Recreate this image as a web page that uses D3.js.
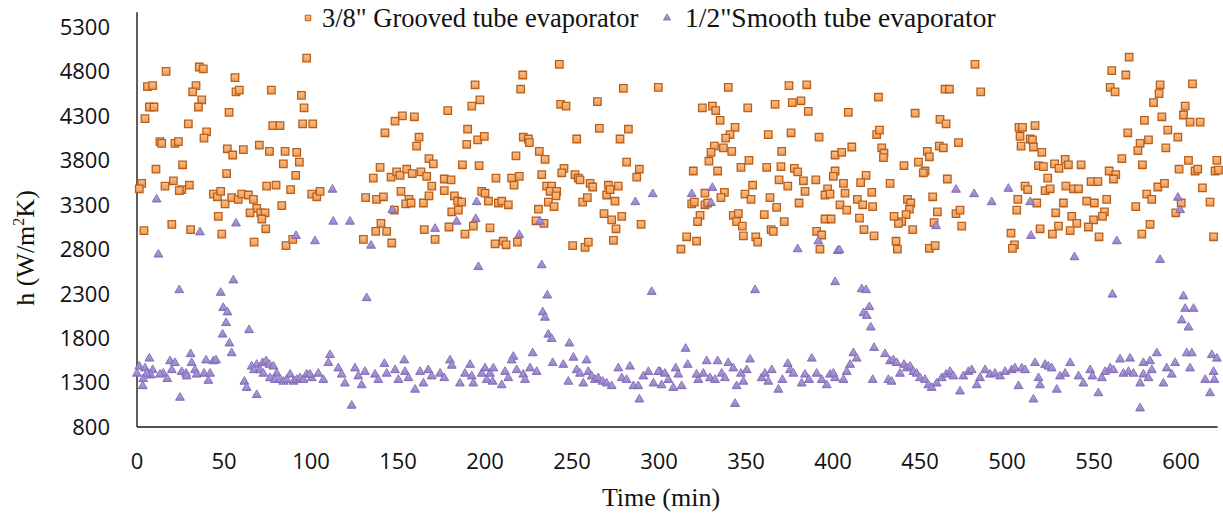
<!DOCTYPE html>
<html>
<head>
<meta charset="utf-8">
<script src="https://cdn.jsdelivr.net/npm/d3@7/dist/d3.min.js"></script>
<style>
  html, body { margin: 0; padding: 0; background: #fff; }
  svg { display: block; }
</style>
</head>
<body>
<svg id="chart" width="1223" height="515"></svg>
<script>
// Heat transfer coefficient over time for the two evaporators
const seriesNames = ['3/8" Grooved tube evaporator', '1/2"Smooth tube evaporator'];
const xTicks = [0, 50, 100, 150, 200, 250, 300, 350, 400, 450, 500, 550, 600];
const yTicks = [800, 1300, 1800, 2300, 2800, 3300, 3800, 4300, 4800, 5300];

// 3/8" grooved tube: time (min) and h (W/m2K)
const groovedTime = [
  97.5,35.8,38.1,16.7,56.3,6.0,9.0,33.9,32.0,56.9,58.8,77.2,94.5,37.2,7.1,9.8,35.3,96.0,52.9,4.6,
  29.5,78.0,82.2,95.2,101.0,40.0,38.5,13.2,14.2,21.8,23.8,51.9,55.0,61.1,70.3,76.1,85.1,91.8,84.1,93.3,
  26.2,10.9,51.5,91.2,2.7,1.3,16.1,20.9,30.1,25.7,24.3,43.9,46.2,48.1,50.6,54.4,58.2,60.2,64.0,66.9,
  68.8,71.1,73.6,65.0,71.7,74.0,46.7,74.5,79.9,88.3,83.2,100.4,4.0,20.0,30.8,48.7,67.3,85.6,89.5,
  103.3,105.2,194.3,197.1,192.4,178.6,152.5,148.3,159.4,142.5,162.1,160.7,190.0,195.8,199.6,189.5,167.8,170.3,187.0,196.6,
  139.7,135.8,146.0,149.2,151.2,155.0,158.2,163.2,166.5,169.4,176.6,180.5,176.6,182.4,184.3,186.6,180.9,184.7,198.1,131.4,
  137.7,141.6,151.7,156.3,154.4,157.5,164.6,167.8,147.9,140.2,137.2,143.5,130.1,146.4,165.1,171.3,179.3,188.5,193.3,
  242.7,221.7,220.5,279.5,299.6,243.5,246.6,264.6,265.7,282.4,277.6,252.7,222.0,224.9,225.5,217.8,231.2,234.5,245.4,244.1,
  232.6,251.7,253.6,254.6,260.4,261.9,281.4,288.7,287.2,206.3,215.3,216.7,219.7,235.4,238.3,237.4,241.2,240.8,200.0,202.0,
  207.7,209.6,213.4,236.4,239.7,230.7,229.3,233.9,256.1,258.8,270.9,269.9,271.9,276.6,274.7,268.4,272.8,278.6,275.3,289.7,
  273.8,202.9,205.8,210.5,212.1,218.6,250.4,257.5,259.4,
  339.8,374.7,384.9,324.9,330.7,332.6,335.1,351.0,366.7,376.6,381.6,385.8,343.7,340.8,338.3,362.8,375.9,392.0,331.8,329.9,
  337.0,341.8,328.7,351.7,370.5,319.7,333.7,347.1,361.9,370.1,377.8,379.7,369.0,374.0,383.0,383.9,390.1,401.2,401.2,400.2,
  396.9,395.4,398.3,353.8,337.6,326.4,349.4,352.9,363.8,367.6,380.5,318.8,320.3,326.4,328.0,335.6,323.6,322.2,342.7,345.6,
  344.6,347.9,360.5,372.0,364.4,365.7,395.4,398.9,315.9,321.6,312.6,348.5,355.6,356.7,390.6,393.5,392.5,
  481.6,464.4,466.9,484.9,426.1,408.8,447.2,461.5,465.0,425.1,426.7,472.1,428.0,429.3,429.0,461.1,463.4,454.2,455.4,410.8,
  405.0,440.8,449.1,452.9,451.9,419.0,415.9,406.0,432.8,465.7,406.9,414.0,417.1,422.3,422.8,404.0,407.9,415.2,442.8,444.7,
  443.9,442.0,439.5,437.6,435.1,457.3,460.0,458.1,470.7,473.0,474.0,417.8,423.6,445.8,436.2,437.0,455.4,458.7,
  570.2,560.2,568.3,559.3,562.1,588.0,606.6,587.4,584.2,602.4,589.0,601.4,605.2,611.0,579.0,569.4,592.4,581.3,576.5,598.2,
  591.3,575.2,566.0,577.8,604.3,620.6,619.6,621.5,598.9,608.1,609.6,612.3,558.7,562.5,561.2,506.9,508.9,516.1,507.5,513.3,
  514.6,508.1,515.2,520.0,518.1,520.9,527.3,529.9,533.4,535.3,542.6,523.4,510.4,511.9,521.9,524.8,533.8,538.2,541.1,548.3,
  552.2,557.3,506.2,505.6,517.1,532.4,545.8,550.2,556.0,554.9,549.7,528.0,537.2,540.1,529.6,536.3,546.8,526.1,519.0,552.9,
  502.3,504.3,503.1,574.0,580.3,583.2,586.7,590.5,577.5,582.2,597.0,600.1,616.7,618.7
];
const groovedH = [
  4950,4850,4830,4800,4730,4630,4640,4640,4570,4570,4590,4590,4530,4480,4400,4400,4400,4390,4340,4270,
  4210,4190,4190,4210,4210,4120,4050,4010,3990,3990,4010,3930,3860,3920,3970,3900,3900,3890,3760,3780,
  3750,3700,3650,3630,3540,3480,3510,3570,3520,3470,3460,3420,3390,3450,3310,3380,3360,3420,3410,3360,
  3260,3210,3210,3210,3140,3030,3170,3510,3520,3470,3290,3420,3010,3080,3020,2970,2880,2840,2910,
  3390,3450,4650,4480,4410,4360,4300,4240,4290,4110,4060,3960,4150,4030,4070,3980,3820,3760,3750,3740,
  3720,3600,3610,3670,3630,3700,3650,3670,3620,3510,3590,3580,3460,3400,3340,3330,3220,3240,3450,3380,
  3360,3390,3450,3360,3310,3320,3320,3400,3240,3090,3000,3000,2910,2870,3020,2910,3050,2970,3060,
  4880,4760,4600,4610,4620,4430,4410,4460,4160,4150,4040,4040,4060,4040,4000,3850,3900,3810,3710,3660,
  3640,3640,3600,3580,3540,3500,3780,3700,3610,3600,3600,3520,3620,3510,3510,3450,3450,3400,3430,3340,
  3320,3340,3300,3330,3280,3250,3120,3090,3330,3380,3520,3410,3470,3510,3340,3200,3130,3170,3030,3080,
  2900,3040,2860,2890,2850,2880,2840,2820,2880,
  4620,4640,4650,4390,4410,4360,4250,4390,4430,4450,4470,4350,4170,4090,4050,4090,4110,4060,3960,3890,
  3940,3900,3790,3800,3900,3680,3680,3720,3720,3730,3710,3670,3580,3510,3570,3450,3580,3860,3680,3620,
  3480,3410,3420,3520,3440,3430,3420,3360,3380,3270,3320,3310,3330,3300,3320,3380,3180,3110,3180,3200,
  3110,3060,3190,3110,3020,3000,3140,3140,2940,2890,2800,2950,2940,2880,3000,2960,2800,
  4880,4600,4600,4570,4510,4340,4330,4260,4210,4090,4140,4000,3940,3880,3830,3960,3940,3900,3840,3950,
  3890,3740,3780,3680,3660,3630,3550,3540,3540,3590,3430,3360,3300,3440,3280,3300,3240,3150,3360,3320,
  3250,3190,3110,3090,3170,3390,3220,3100,3200,3240,3060,3020,2950,3020,2890,2800,2810,2840,
  4960,4810,4760,4620,4570,4650,4660,4550,4450,4410,4290,4310,4230,4230,4250,4110,4140,4030,3990,4060,
  3940,3910,3820,3750,3800,3800,3680,3690,3700,3680,3700,3490,3680,3640,3590,4170,4170,4190,4070,4040,
  4030,3960,3950,3890,3740,3730,3760,3710,3810,3750,3750,3600,3510,3470,3460,3480,3510,3480,3480,3560,
  3560,3360,3360,3240,3320,3320,3340,3320,3220,3170,3130,3210,3170,3090,3060,3010,3050,2970,3030,2940,
  2980,2850,2810,3280,3420,3360,3500,3540,2970,3080,3210,3320,3330,2940
];

// 1/2" smooth tube: time (min) and h (W/m2K)
const smoothTime = [
  11.3,56.9,36.2,12.3,91.4,55.4,24.3,48.1,49.6,52.0,51.2,64.4,49.2,53.1,54.4,7.1,30.8,19.0,21.8,39.7,
  43.9,45.4,1.3,4.6,9.0,15.1,17.4,25.7,28.2,31.4,33.3,38.5,41.0,42.0,3.3,3.6,7.9,61.7,63.0,68.8,
  24.7,65.9,68.8,72.2,74.2,76.1,78.4,80.3,76.4,79.3,82.2,84.1,86.0,88.0,89.9,91.8,93.7,95.6,97.5,100.4,
  67.3,70.7,72.6,0.0,5.6,34.3,28.5,13.2,20.0,
  112.3,102.3,112.8,122.4,134.5,146.7,171.3,183.7,195.2,194.7,196.2,132.0,123.4,110.9,110.0,159.8,99.4,104.2,107.1,115.7,
  117.6,119.5,125.3,127.2,129.1,131.0,136.8,138.7,142.2,143.5,148.3,150.2,153.6,154.0,156.0,162.7,164.6,167.4,169.4,174.2,
  176.6,179.9,180.9,185.6,188.5,191.4,192.4,193.3,198.1,201.0,
  296.4,286.4,231.6,219.7,232.6,295.8,235.8,233.2,234.5,236.4,238.3,248.5,227.4,216.3,215.3,250.8,258.4,238.9,245.0,247.9,
  288.7,200.0,202.9,204.8,204.4,209.6,211.5,213.4,218.2,222.0,223.0,225.9,229.7,252.7,254.6,256.5,259.4,261.3,263.2,265.1,
  267.6,269.9,272.8,276.6,278.6,281.4,283.3,285.3,288.1,291.0,293.9,296.8,300.6,
  318.8,330.7,329.9,391.6,379.7,402.7,401.2,355.2,315.3,387.8,352.3,327.4,333.7,339.8,316.5,374.0,309.6,299.6,303.4,301.5,
  305.4,308.2,313.0,311.1,322.6,321.6,325.5,329.3,332.2,336.0,337.9,342.7,344.6,347.1,348.5,343.7,350.4,359.0,360.9,364.8,
  362.8,368.6,370.9,375.3,377.2,382.0,383.9,386.2,390.6,393.5,396.4,398.3,401.2,
  470.7,481.1,491.2,500.8,459.2,403.7,416.5,419.0,420.9,417.5,419.4,421.7,423.6,429.9,411.7,413.6,409.8,407.9,406.0,400.2,
  422.8,431.8,433.7,432.8,434.7,436.6,438.5,440.8,442.4,444.3,446.2,448.1,450.0,452.9,454.8,456.7,459.6,462.5,465.0,467.3,
  469.2,473.0,474.9,477.8,479.7,482.6,484.5,487.4,490.3,493.1,496.0,498.9,502.7,
  513.3,513.8,563.1,598.2,599.5,538.8,588.0,560.6,601.4,602.4,607.2,600.4,604.3,586.1,603.3,606.2,617.7,620.6,565.0,570.7,
  578.4,582.2,504.6,508.5,510.4,516.1,518.1,521.9,523.8,525.7,506.6,519.0,515.2,528.6,530.5,533.4,536.3,541.1,543.9,547.8,
  549.1,552.5,554.5,556.4,559.3,561.2,566.9,569.8,572.7,576.5,576.5,578.4,581.3,583.2,589.9,591.8,594.7,596.6,605.2,613.9,
  616.7,618.7,619.2
];
const smoothH = [
  3360,3090,2990,2740,2950,2450,2340,2310,2140,2090,1970,1890,1840,1740,1630,1570,1620,1540,1520,1550,
  1540,1550,1480,1460,1440,1400,1340,1420,1400,1520,1440,1400,1320,1400,1260,1340,1380,1310,1240,1160,
  1130,1480,1500,1520,1540,1500,1480,1400,1350,1330,1330,1310,1330,1390,1310,1330,1350,1330,1390,1350,
  1440,1440,1400,1400,1400,1390,1370,1390,1440,
  3470,2890,3110,3110,2840,3240,3030,3110,3330,3140,2600,2250,1040,1610,1520,1220,1390,1400,1330,1460,
  1390,1290,1460,1370,1270,1420,1390,1330,1510,1400,1440,1330,1550,1420,1350,1420,1290,1440,1370,1400,
  1350,1550,1490,1290,1400,1500,1370,1290,1400,1330,
  3420,3330,3110,2960,2620,2320,2280,2090,2030,1840,1790,1740,1630,1590,1550,1580,1550,1520,1500,1310,
  1110,1460,1400,1460,1310,1270,1420,1350,1440,1390,1330,1460,1420,1440,1400,1290,1420,1370,1330,1350,
  1310,1290,1260,1460,1350,1330,1480,1260,1260,1370,1420,1290,1420,
  3420,3490,3320,2890,2800,2780,2430,2340,1680,1570,1560,1540,1540,1520,1500,1510,1460,1420,1400,1270,
  1330,1240,1260,1390,1330,1390,1400,1350,1330,1400,1350,1460,1260,1400,1310,1060,1440,1350,1400,1440,
  1310,1220,1330,1440,1400,1290,1390,1330,1400,1330,1270,1390,1350,
  3470,3420,3330,3480,3060,2790,2350,2340,2150,2080,2050,1920,1690,1620,1630,1570,1500,1420,1330,1400,
  1330,1330,1310,1540,1550,1520,1400,1500,1460,1480,1420,1400,1350,1330,1270,1240,1290,1350,1390,1420,
  1370,1200,1370,1420,1440,1270,1350,1440,1390,1400,1370,1420,1440,
  3330,2950,2890,3380,3240,2710,2680,2290,2270,2130,2130,2000,1920,1630,1630,1630,1610,1570,1560,1570,
  1520,1540,1460,1460,1440,1520,1350,1500,1480,1460,1260,1270,1110,1220,1370,1400,1520,1370,1290,1440,
  1370,1180,1350,1420,1460,1440,1400,1420,1400,1290,1010,1390,1350,1440,1290,1460,1390,1520,1460,1330,
  1180,1420,1330
];

const svg = d3.select('#chart');

const x = d3.scaleLinear().domain([0, 600]).range([137, 1181]);
const y = d3.scaleLinear().domain([800, 5300]).range([427, 27]);
const xEnd = 621;      // right end of the time axis
const yTop = 5465;     // top end of the value axis line

const grooved = groovedTime.map((t, i) => ({ t, h: groovedH[i] }));
const smooth = smoothTime.map((t, i) => ({ t, h: smoothH[i] }));

// marker gradients
const defs = svg.append('defs');
const gO = defs.append('linearGradient').attr('id', 'gradOrange').attr('x1', 0).attr('y1', 0).attr('x2', 0).attr('y2', 1);
gO.append('stop').attr('offset', '0%').attr('stop-color', '#fcc08a');
gO.append('stop').attr('offset', '100%').attr('stop-color', '#f59a50');
const gP = defs.append('linearGradient').attr('id', 'gradPurple').attr('x1', 0).attr('y1', 0).attr('x2', 0).attr('y2', 1);
gP.append('stop').attr('offset', '0%').attr('stop-color', '#b8a6e0');
gP.append('stop').attr('offset', '100%').attr('stop-color', '#9580c8');

const squareSym = d3.symbol().type(d3.symbolSquare).size(56);
const triSym = d3.symbol().type(d3.symbolTriangle).size(34);

// axis lines
svg.append('line')
  .attr('x1', x(0)).attr('x2', x(0))
  .attr('y1', y(800)).attr('y2', y(yTop))
  .attr('stroke', '#1a1a1a').attr('stroke-width', 1.4);
svg.append('line')
  .attr('x1', x(0)).attr('x2', x(xEnd))
  .attr('y1', y(800)).attr('y2', y(800))
  .attr('stroke', '#1a1a1a').attr('stroke-width', 1.4);

// tick labels
svg.append('g').selectAll('text').data(yTicks).join('text')
  .attr('x', 110).attr('y', d => y(d))
  .attr('dy', '0.36em')
  .attr('text-anchor', 'end')
  .attr('font-family', '"Open Sans", sans-serif')
  .attr('font-size', 22)
  .attr('fill', '#111')
  .text(d => d);

svg.append('g').selectAll('text').data(xTicks).join('text')
  .attr('x', d => x(d)).attr('y', 469)
  .attr('text-anchor', 'middle')
  .attr('font-family', '"Open Sans", sans-serif')
  .attr('font-size', 22)
  .attr('fill', '#111')
  .text(d => d);

// axis titles
svg.append('text')
  .attr('x', 661).attr('y', 506)
  .attr('text-anchor', 'middle')
  .attr('font-family', '"Liberation Serif", "Times New Roman", serif')
  .attr('font-size', 26)
  .attr('fill', '#111')
  .text('Time (min)');

const yTitle = svg.append('text')
  .attr('transform', 'translate(34,248) rotate(-90)')
  .attr('text-anchor', 'middle')
  .attr('font-family', '"Liberation Serif", "Times New Roman", serif')
  .attr('font-size', 26)
  .attr('fill', '#111');
yTitle.append('tspan').text('h (W/m');
yTitle.append('tspan').attr('font-size', 16).attr('dy', -10).text('2');
yTitle.append('tspan').attr('dy', 10).text('K)');

// data markers
svg.append('g').selectAll('path').data(grooved).join('path')
  .attr('transform', d => `translate(${x(d.t)},${y(d.h)})`)
  .attr('d', squareSym)
  .attr('fill', 'url(#gradOrange)')
  .attr('stroke', '#b5601c')
  .attr('stroke-width', 1.3);

svg.append('g').selectAll('path').data(smooth).join('path')
  .attr('transform', d => `translate(${x(d.t)},${y(d.h)})`)
  .attr('d', triSym)
  .attr('fill', 'url(#gradPurple)')
  .attr('stroke', '#7c66b3')
  .attr('stroke-width', 0.9);

// legend
const legend = svg.append('g');
legend.append('path')
  .attr('transform', 'translate(308,18)')
  .attr('d', d3.symbol().type(d3.symbolSquare).size(30))
  .attr('fill', 'url(#gradOrange)').attr('stroke', '#b5601c').attr('stroke-width', 1);
legend.append('text')
  .attr('x', 322).attr('y', 27)
  .attr('font-family', '"Liberation Serif", "Times New Roman", serif')
  .attr('font-size', 26.5).attr('fill', '#111')
  .text(seriesNames[0]);
legend.append('path')
  .attr('transform', 'translate(667,18)')
  .attr('d', d3.symbol().type(d3.symbolTriangle).size(22))
  .attr('fill', 'url(#gradPurple)').attr('stroke', '#7c66b3').attr('stroke-width', 0.8);
legend.append('text')
  .attr('x', 685).attr('y', 27)
  .attr('font-family', '"Liberation Serif", "Times New Roman", serif')
  .attr('font-size', 27.5).attr('fill', '#111')
  .text(seriesNames[1]);
</script>
</body>
</html>
